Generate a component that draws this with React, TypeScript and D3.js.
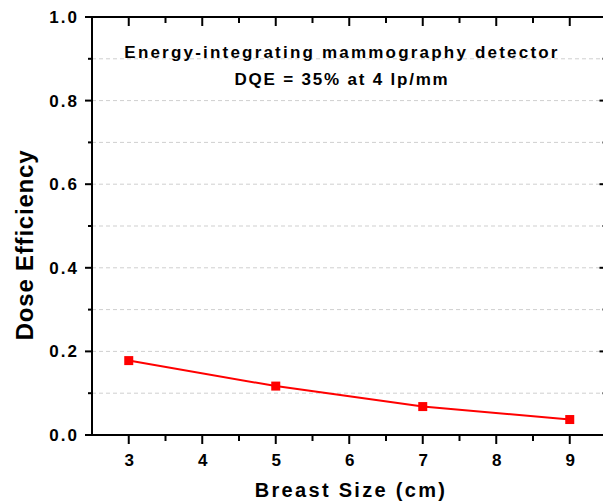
import React from "react";
import * as d3 from "d3";

const breastSize = [3, 5, 7, 9];
const doseEfficiency = [0.178, 0.117, 0.068, 0.037];
const xTicks = [3, 4, 5, 6, 7, 8, 9];
const xMinor = [3.5, 4.5, 5.5, 6.5, 7.5, 8.5];
const yTicks = [0, 0.2, 0.4, 0.6, 0.8, 1.0];
const yMinor = [0.1, 0.3, 0.5, 0.7, 0.9];
const gridVals = [0.1, 0.2, 0.3, 0.4, 0.5, 0.6, 0.7, 0.8, 0.9];
const titleLines = ["Energy-integrating mammography detector", "DQE = 35% at 4 lp/mm"];

const W = 603, H = 503;
const L = 92, R = 606.5, T = 17, B = 435;

export default function App() {
  const x = d3.scaleLinear().domain([2.5, 9.5]).range([L, R]);
  const y = d3.scaleLinear().domain([0, 1]).range([B, T]);
  const line = d3.line<number>().x((_, i) => x(breastSize[i])).y((d) => y(d));
  const font = "'Liberation Sans', Arial, sans-serif";
  return (
    <svg width={W} height={H} style={{ position: "absolute", left: 0, top: 0, background: "#fff" }} fontFamily={font}>
      {gridVals.map((v) => (
        <line key={"g" + v} x1={L} x2={R} y1={y(v)} y2={y(v)} stroke="#cfcfcf" strokeWidth={1} strokeDasharray="4,3" />
      ))}
      {/* frame */}
      <rect x={L} y={T} width={R - L} height={B - T} fill="none" stroke="#000" strokeWidth={2} />
      {/* x ticks */}
      {xTicks.map((v) => (
        <g key={"xt" + v}>
          <line x1={x(v)} x2={x(v)} y1={B} y2={B + 9} stroke="#000" strokeWidth={2} />
          <line x1={x(v)} x2={x(v)} y1={T} y2={T + 9} stroke="#000" strokeWidth={2} />
          <text x={x(v) + 0.5} y={466} textAnchor="middle" fontSize={17} fontWeight="bold">{v}</text>
        </g>
      ))}
      {xMinor.map((v) => (
        <g key={"xm" + v}>
          <line x1={x(v)} x2={x(v)} y1={B} y2={B + 6} stroke="#000" strokeWidth={2} />
          <line x1={x(v)} x2={x(v)} y1={T} y2={T + 6} stroke="#000" strokeWidth={2} />
        </g>
      ))}
      {yTicks.map((v) => (
        <g key={"yt" + v}>
          <line x1={L - 7} x2={L} y1={y(v)} y2={y(v)} stroke="#000" strokeWidth={2} />
          <line x1={R - 7} x2={R} y1={y(v)} y2={y(v)} stroke="#000" strokeWidth={2} />
          <text x={79} y={y(v) + 6} textAnchor="end" fontSize={17} fontWeight="bold" letterSpacing={2}>{v.toFixed(1)}</text>
        </g>
      ))}
      {yMinor.map((v) => (
        <g key={"ym" + v}>
          <line x1={L - 4} x2={L} y1={y(v)} y2={y(v)} stroke="#000" strokeWidth={2} />
          <line x1={R - 4} x2={R} y1={y(v)} y2={y(v)} stroke="#000" strokeWidth={2} />
        </g>
      ))}
      {/* data */}
      <path d={line(doseEfficiency) || ""} fill="none" stroke="#ff0000" strokeWidth={2} />
      {doseEfficiency.map((v, i) => (
        <rect key={"m" + i} x={x(breastSize[i]) - 4.5} y={y(v) - 4.5} width={9} height={9} fill="#ff0000" />
      ))}
      {/* title */}
      {titleLines.map((t, i) => (
        <text key={"t" + i} x={342} y={58 + i * 27} textAnchor="middle" fontSize={17} fontWeight="bold" letterSpacing={i === 0 ? 2.2 : 1.8}>{t}</text>
      ))}
      {/* axis labels */}
      <text x={351} y={497} textAnchor="middle" fontSize={20} fontWeight="bold" letterSpacing={2.3}>Breast Size (cm)</text>
      <text transform="translate(33,245) rotate(-90)" textAnchor="middle" fontSize={24} fontWeight="bold" letterSpacing={0.8}>Dose Efficiency</text>
    </svg>
  );
}
